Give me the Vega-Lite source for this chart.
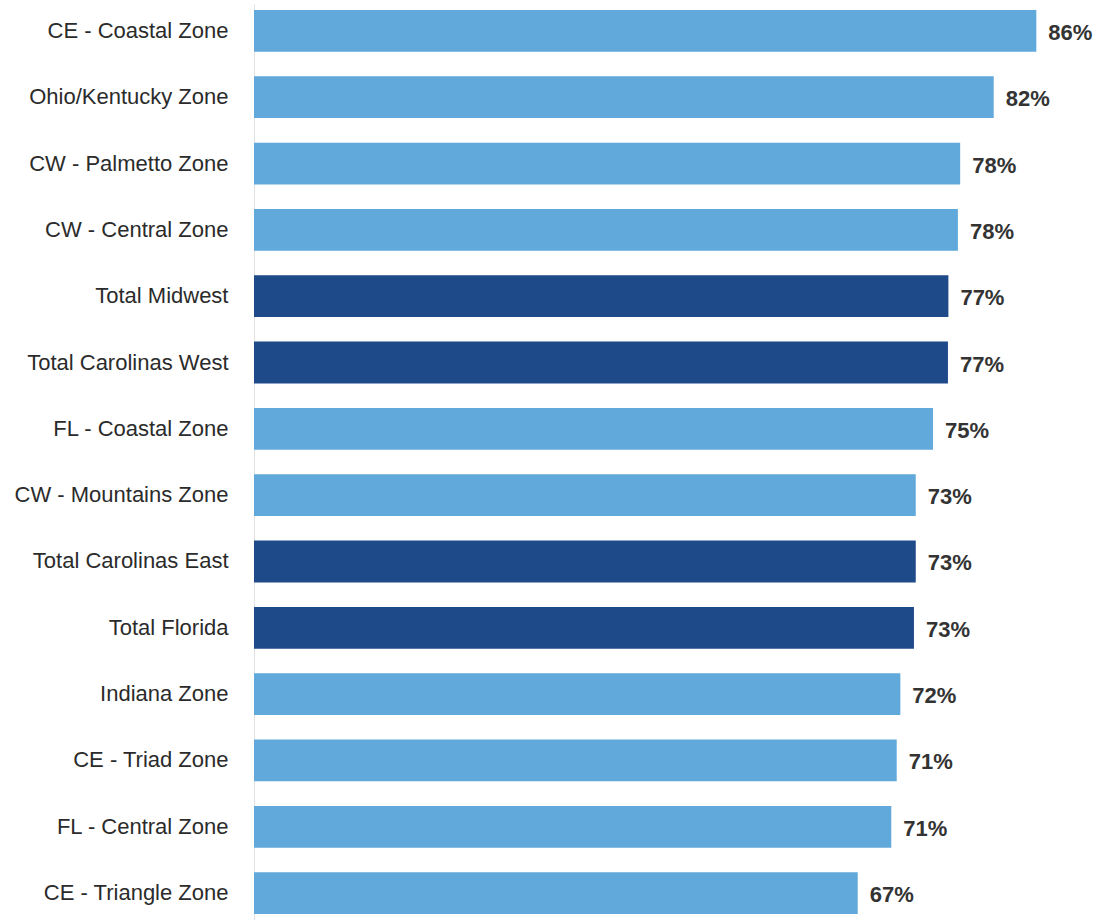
{
  "$schema": "https://vega.github.io/schema/vega-lite/v6.json",
  "autosize": "none",
  "width": 834,
  "height": 916,
  "padding": {"left": 254, "top": 4, "right": 9, "bottom": 0},
  "background": "white",
  "config": {"view": {"stroke": null}},
  "data": {
    "values": [
      {"zone": "CE - Coastal Zone", "value": 86.3, "label": "86%", "kind": "Zone"},
      {"zone": "Ohio/Kentucky Zone", "value": 81.6, "label": "82%", "kind": "Zone"},
      {"zone": "CW - Palmetto Zone", "value": 77.9, "label": "78%", "kind": "Zone"},
      {"zone": "CW - Central Zone", "value": 77.65, "label": "78%", "kind": "Zone"},
      {"zone": "Total Midwest", "value": 76.6, "label": "77%", "kind": "Total"},
      {"zone": "Total Carolinas West", "value": 76.55, "label": "77%", "kind": "Total"},
      {"zone": "FL - Coastal Zone", "value": 74.9, "label": "75%", "kind": "Zone"},
      {"zone": "CW - Mountains Zone", "value": 73.0, "label": "73%", "kind": "Zone"},
      {"zone": "Total Carolinas East", "value": 73.0, "label": "73%", "kind": "Total"},
      {"zone": "Total Florida", "value": 72.8, "label": "73%", "kind": "Total"},
      {"zone": "Indiana Zone", "value": 71.3, "label": "72%", "kind": "Zone"},
      {"zone": "CE - Triad Zone", "value": 70.9, "label": "71%", "kind": "Zone"},
      {"zone": "FL - Central Zone", "value": 70.3, "label": "71%", "kind": "Zone"},
      {"zone": "CE - Triangle Zone", "value": 66.6, "label": "67%", "kind": "Zone"}
    ]
  },
  "encoding": {
    "y": {
      "field": "zone",
      "type": "nominal",
      "sort": null,
      "scale": {"paddingInner": 0.37, "paddingOuter": 0.09},
      "axis": {
        "title": null,
        "ticks": false,
        "domain": true,
        "domainColor": "#e2e2e2",
        "domainWidth": 1,
        "labelPadding": 26,
        "labelFont": "Liberation Sans, Arial, sans-serif",
        "labelFontSize": 22,
        "labelColor": "#2b2b2b",
        "labelLimit": 400
      }
    },
    "x": {
      "field": "value",
      "type": "quantitative",
      "scale": {"domain": [0, 92], "nice": false},
      "axis": null
    }
  },
  "layer": [
    {
      "mark": {"type": "bar"},
      "encoding": {
        "color": {
          "field": "kind",
          "type": "nominal",
          "scale": {"domain": ["Zone", "Total"], "range": ["#62a9db", "#1f4a8a"]},
          "legend": null
        }
      }
    },
    {
      "mark": {
        "type": "text",
        "align": "left",
        "baseline": "middle",
        "dx": 12,
        "dy": 2,
        "font": "Liberation Sans, Arial, sans-serif",
        "fontSize": 22,
        "fontWeight": "bold",
        "color": "#333333"
      },
      "encoding": {"text": {"field": "label"}}
    }
  ]
}
